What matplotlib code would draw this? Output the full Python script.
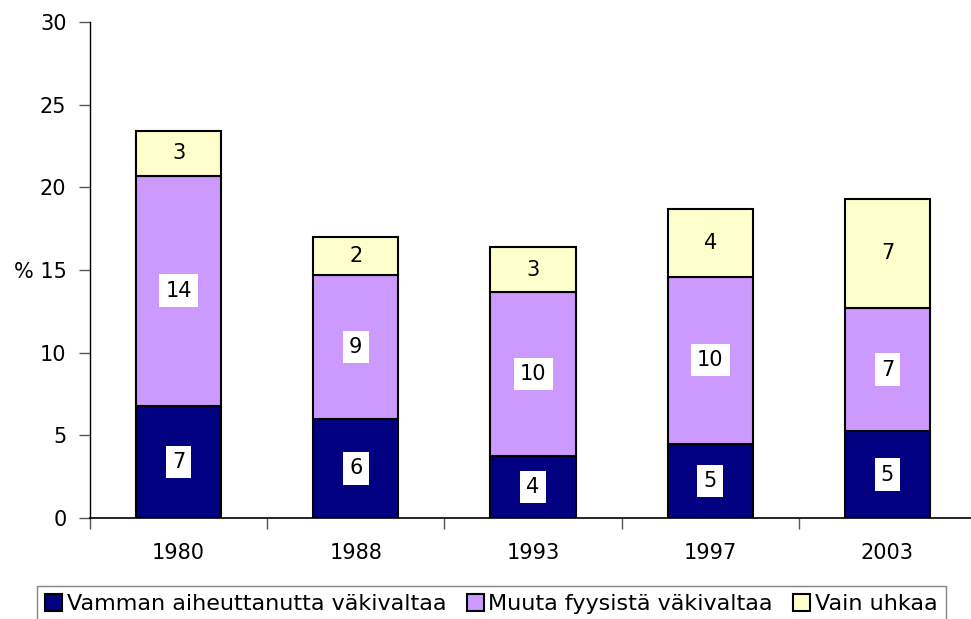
import matplotlib
matplotlib.use("Agg")
import matplotlib.pyplot as plt
import numpy as np

years = ["1980", "1988", "1993", "1997", "2003"]
injury = [6.8, 6.0, 3.75, 4.5, 5.26]
other_physical = [13.9, 8.7, 9.9, 10.1, 7.44]
threat_only = [2.7, 2.3, 2.72, 4.1, 6.6]
injury_labels = ["7", "6", "4", "5", "5"]
other_labels = ["14", "9", "10", "10", "7"]
threat_labels = ["3", "2", "3", "4", "7"]
series_names = ["Vamman aiheuttanutta väkivaltaa", "Muuta fyysistä väkivaltaa", "Vain uhkaa"]
colors = ["#000080", "#CC99FF", "#FFFFCC"]

plt.rcParams['font.family'] = ['DejaVu Sans']
FS = 15

fig = plt.figure(figsize=(9.71, 6.19), dpi=100)
W, H = 971, 619
ax = fig.add_axes([90 / W, 1 - 518 / H, 886 / W, (518 - 22) / H])

x = np.arange(len(years))
width = 0.48
bottom = np.zeros(len(years))
series = [injury, other_physical, threat_only]
labels = [injury_labels, other_labels, threat_labels]
for i, (vals, labs) in enumerate(zip(series, labels)):
    vals = np.array(vals)
    ax.bar(x, vals, width, bottom=bottom, color=colors[i], edgecolor="black",
           linewidth=1.5, label=series_names[i], zorder=2)
    for xi, b, v, lab in zip(x, bottom, vals, labs):
        kw = {}
        if i < 2:
            kw["bbox"] = dict(facecolor="white", edgecolor="none", pad=4.5)
        ax.text(xi, b + v / 2, lab, ha="center", va="center", fontsize=FS,
                color="black", zorder=3, **kw)
    bottom = bottom + vals

ax.set_xlim(-0.5, 4.5)
ax.set_ylim(0, 30)
ax.set_yticks([0, 5, 10, 15, 20, 25, 30])
ax.set_yticklabels(["0", "5", "10", "% 15", "20", "25", "30"])
ax.set_xticks(x)
ax.set_xticklabels(years)
ax.set_xticks(np.arange(-0.5, 5, 1), minor=True)
ax.tick_params(axis="x", which="major", length=0, labelsize=FS, pad=18)
ax.tick_params(axis="x", which="minor", length=8, width=1, color="#555555")
ax.tick_params(axis="y", length=8, width=1, labelsize=FS, pad=9, color="#555555")
for s in ["top", "right"]:
    ax.spines[s].set_visible(False)
ax.spines["left"].set_linewidth(1)
ax.spines["bottom"].set_linewidth(1.2)

leg = fig.legend(loc="upper left", bbox_to_anchor=(37 / W, 1 - 586 / H), ncol=3,
                 fontsize=16, frameon=True, fancybox=False, edgecolor="#666666",
                 handlelength=0.77, handleheight=0.77, handletextpad=0.22,
                 columnspacing=0.9, borderpad=0.36, borderaxespad=0)
leg.get_frame().set_linewidth(1)
for h in leg.legend_handles:
    h.set_linewidth(1.5)

fig.savefig("out.png", dpi=100)
